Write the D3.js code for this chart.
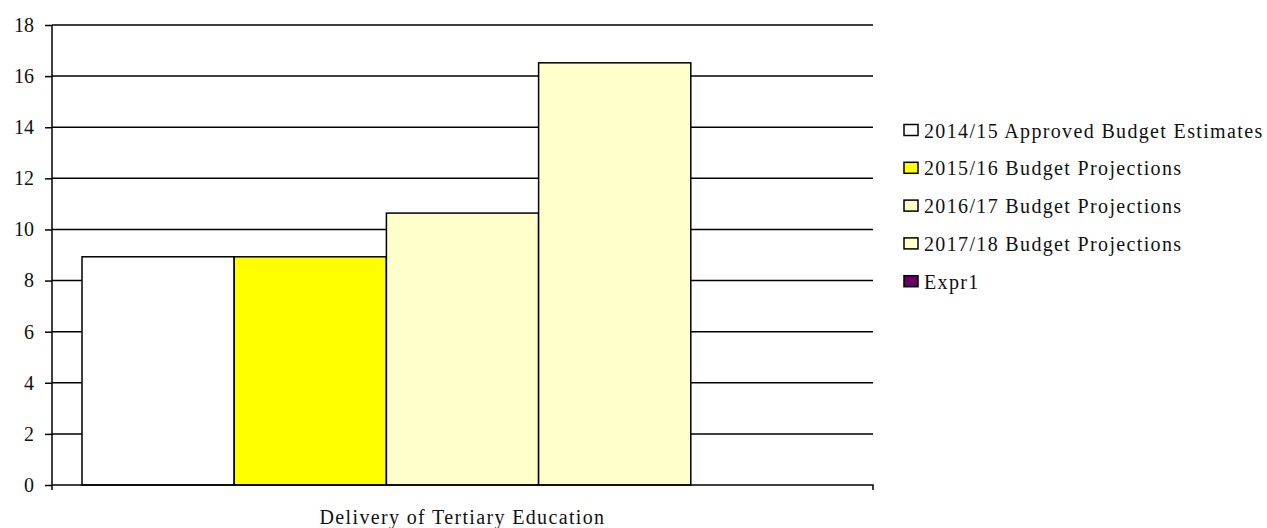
<!DOCTYPE html>
<html>
<head>
<meta charset="utf-8">
<script src="https://cdn.jsdelivr.net/npm/d3@7"></script>
<style>
  body { margin: 0; background: #fff; }
</style>
</head>
<body>
<div id="chart"></div>
<script>
// data
var categories = ["Delivery of Tertiary Education"];
var seriesNames = ["2014/15 Approved Budget Estimates", "2015/16 Budget Projections",
                   "2016/17 Budget Projections", "2017/18 Budget Projections", "Expr1"];
var seriesValues = [8.93, 8.93, 10.64, 16.52, 0];
var seriesColours = ["#ffffff", "#ffff00", "#ffffcc", "#ffffcc", "#660066"];
var yTicks = [0, 2, 4, 6, 8, 10, 12, 14, 16, 18];

var serif = "'Liberation Serif'";
var width = 1267, height = 528;
var margin = {top: 25, left: 52, right: 394, bottom: 43};

var svg = d3.select("#chart").append("svg")
    .attr("width", width).attr("height", height);

var x0 = d3.scaleBand().domain(categories)
    .range([margin.left, width - margin.right]);

// 30px gap at each end of the group
var x1 = d3.scaleBand().domain(seriesNames)
    .range([x0(categories[0]) + 30, x0(categories[0]) + x0.bandwidth() - 30]);

var y = d3.scaleLinear().domain([0, 18])
    .range([height - margin.bottom, margin.top]);

// gridlines
svg.append("g").selectAll("line").data(yTicks.filter(function(d) { return d > 0; }))
  .enter().append("line")
    .attr("x1", margin.left).attr("x2", width - margin.right)
    .attr("y1", function(d) { return y(d); }).attr("y2", function(d) { return y(d); })
    .attr("stroke", "#000").attr("stroke-width", 1.5);

// bars
svg.append("g").selectAll("rect").data(seriesValues)
  .enter().append("rect")
    .filter(function(d) { return d > 0; })
    .attr("x", function(d, i) { return x1(seriesNames[i]); })
    .attr("y", function(d) { return y(d); })
    .attr("width", x1.bandwidth())
    .attr("height", function(d) { return y(0) - y(d); })
    .attr("fill", function(d, i) { return seriesColours[i]; })
    .attr("stroke", "#000").attr("stroke-width", 1.5);

// y axis
var yAxis = svg.append("g")
    .attr("transform", "translate(" + margin.left + ",0)")
    .call(d3.axisLeft(y).tickValues(yTicks).tickSize(7).tickPadding(11).tickFormat(d3.format("d")));
yAxis.select(".domain").attr("d", "M0," + y(18) + "V" + (y(0) + 5)).attr("stroke-width", 1.5);
yAxis.selectAll(".tick line").attr("stroke-width", 1.5);
yAxis.selectAll("text")
    .style("font-family", serif).style("font-size", "20px").attr("fill", "#111");

// x axis
var xAxis = svg.append("g")
    .attr("transform", "translate(0," + y(0) + ")")
    .call(d3.axisBottom(x0).tickSize(0).tickFormat(""));
xAxis.select(".domain")
    .attr("d", "M" + margin.left + ",0H" + (width - margin.right) + "V5")
    .attr("stroke-width", 1.5);

svg.append("text")
    .attr("x", x0(categories[0]) + x0.bandwidth() / 2)
    .attr("y", 524)
    .attr("text-anchor", "middle")
    .attr("fill", "#111")
    .style("font-family", serif)
    .style("font-size", "20px")
    .style("letter-spacing", "1.35px")
    .text(categories[0]);

// legend
var legend = svg.append("g").selectAll("g").data(seriesNames)
  .enter().append("g")
    .attr("transform", function(d, i) { return "translate(904," + (137.5 + i * 37.8) + ")"; });

legend.append("rect")
    .attr("x", 0).attr("y", -13)
    .attr("width", 14).attr("height", 11)
    .attr("fill", function(d, i) { return seriesColours[i]; })
    .attr("stroke", "#000").attr("stroke-width", 1.5);

legend.append("text")
    .attr("x", 20).attr("y", 0)
    .attr("fill", "#111")
    .style("font-family", serif)
    .style("font-size", "20px")
    .style("letter-spacing", "1.35px")
    .text(function(d) { return d; });
</script>
</body>
</html>
